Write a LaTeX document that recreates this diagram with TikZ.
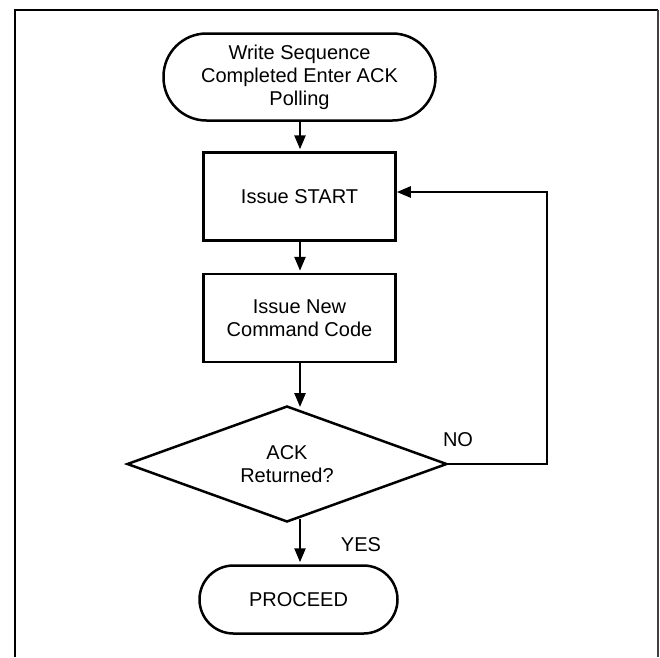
\documentclass[tikz,border=0pt]{standalone}
\usepackage{fontspec}
\setmainfont{Liberation Sans}
\usetikzlibrary{shapes.geometric,arrows.meta}
\begin{document}
\begin{tikzpicture}[x=1pt,y=-1pt,
  every node/.style={font=\fontsize{20}{23}\selectfont, inner sep=0pt},
  term/.style={draw, rectangle, line width=2.5pt, align=center},
  procbox/.style={draw, rectangle, line width=2.5pt, minimum width=192pt, minimum height=88pt, align=center},
  decision/.style={draw, diamond, line width=2.5pt, aspect=2.75, minimum width=320pt, minimum height=116pt, align=center},
  flow/.style={line width=2.5pt, -{Triangle[width=11pt,length=14pt]}, shorten >=2pt},
  lbl/.style={anchor=center}
]
\useasboundingbox (0,0) rectangle (660,657);
% frame
\draw[line width=2.7pt] (15,657) -- (15,10) -- (658,10);
\draw[line width=1.2pt, black!75] (658,10) -- (658,657);

\node[term, rounded corners=43pt, minimum width=272pt, minimum height=87pt] (start) at (299.5,77)
  {Write Sequence\\Completed Enter ACK\\Polling};
\node[procbox] (b1) at (299.5,196.5) {Issue START};
\node[procbox] (b2) at (299.5,318) {Issue New\\Command Code};
\node[decision] (dia) at (287,464) {ACK\\Returned?};
\node[term, rounded corners=34pt, minimum width=198pt, minimum height=68pt] (proc) at (298.5,599.5) {PROCEED};

\node[lbl] (no) at (458,440) {NO};
\node[lbl] (yes) at (361,545) {YES};

\coordinate (j1) at (300,122);
\coordinate (j2) at (300,409);
\coordinate (j3) at (300,519);
\coordinate (loopc) at (547,192);

\draw[flow] (start.south -| j1) -- (b1.north -| j1);
\draw[flow] (b1.south -| j1) -- (b2.north -| j1);
\draw[flow] (b2.south -| j1) -- (j2);
\draw[flow] (j3) -- (proc.north -| j3);
\draw[flow, shorten >=0pt] (dia.east) -| (loopc) -- (loopc -| b1.east);
\end{tikzpicture}
\end{document}
